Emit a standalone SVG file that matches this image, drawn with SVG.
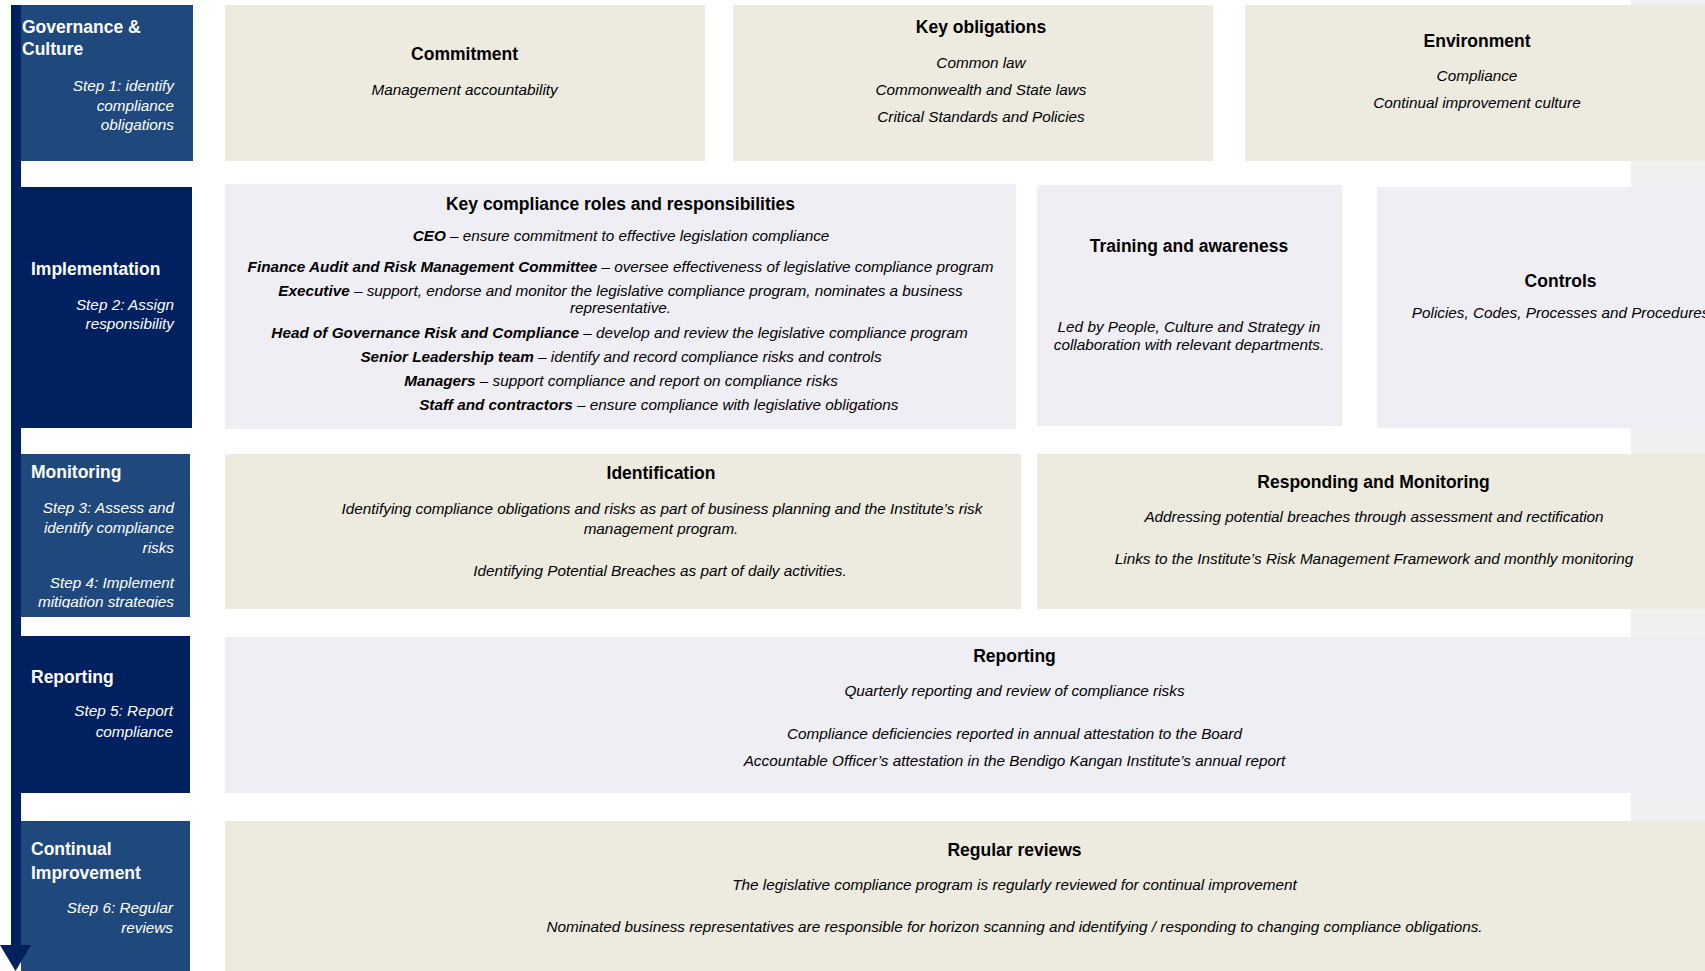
<svg xmlns="http://www.w3.org/2000/svg" width="1705" height="971" viewBox="0 0 1705 971">
<style>
text{font-family:"Liberation Sans",Arial,sans-serif}
.bg{fill:#ffffff}
.strip{fill:#f0f0f0}
.beige{fill:#edebe0}
.lav{fill:#f0eef5}
.navy{fill:#002060}
.mid{fill:#1f497d}
.lt{fill:#ffffff;font-weight:bold;font-size:17.5px}
.ls{fill:#ffffff;font-style:italic;font-size:15.3px;text-anchor:end}
.t{fill:#000000;font-weight:bold;font-size:17.5px;text-anchor:middle}
.b{fill:#000000;font-style:italic;font-size:15.3px;text-anchor:middle}
.bi{font-weight:bold}
</style>
<defs>
<clipPath id="monclip"><rect x="21" y="454" width="169" height="154"/></clipPath>
</defs>
<rect class="bg" x="0" y="0" width="1705" height="971"/>
<rect class="strip" x="1631" y="0" width="74" height="971"/>

<g id="governance">
<rect class="mid" x="21" y="5" width="172" height="156"/>
<text class="lt" x="22" y="33">Governance &amp;</text>
<text class="lt" x="22" y="55">Culture</text>
<text class="ls" x="174" y="91">Step 1: identify</text>
<text class="ls" x="174" y="111">compliance</text>
<text class="ls" x="174" y="130">obligations</text>
</g>
<g id="implementation">
<rect class="navy" x="11" y="187" width="181" height="241"/>
<text class="lt" x="31" y="275">Implementation</text>
<text class="ls" x="174" y="309.5">Step 2: Assign</text>
<text class="ls" x="174" y="329">responsibility</text>
</g>
<g id="monitoring">
<rect class="mid" x="21" y="454" width="169" height="163"/>
<text class="lt" x="31" y="478">Monitoring</text>
<g clip-path="url(#monclip)">
<text class="ls" x="174" y="512.5">Step 3: Assess and</text>
<text class="ls" x="174" y="533">identify compliance</text>
<text class="ls" x="174" y="553">risks</text>
<text class="ls" x="174" y="587.5">Step 4: Implement</text>
<text class="ls" x="174" y="607">mitigation strategies</text>
</g>
</g>
<g id="reporting">
<rect class="navy" x="11" y="636" width="179" height="157"/>
<text class="lt" x="31" y="682.5">Reporting</text>
<text class="ls" x="173" y="715.5">Step 5: Report</text>
<text class="ls" x="173" y="736.5">compliance</text>
</g>
<g id="continual">
<rect class="mid" x="21" y="821" width="169" height="150"/>
<text class="lt" x="31" y="855">Continual</text>
<text class="lt" x="31" y="878.5">Improvement</text>
<text class="ls" x="173" y="913">Step 6: Regular</text>
<text class="ls" x="173" y="932.5">reviews</text>
</g>

<g id="commitment">
<rect class="beige" x="225" y="5" width="480" height="156"/>
<text class="t" x="464.6" y="60">Commitment</text>
<text class="b" x="464.6" y="94.5">Management accountability</text>
</g>
<g id="key-obligations">
<rect class="beige" x="733" y="5" width="480" height="156"/>
<text class="t" x="981" y="33">Key obligations</text>
<text class="b" x="981" y="68">Common law</text>
<text class="b" x="981" y="95">Commonwealth and State laws</text>
<text class="b" x="981" y="122">Critical Standards and Policies</text>
</g>
<g id="environment">
<rect class="beige" x="1245" y="5" width="460" height="156"/>
<text class="t" x="1477" y="46.5">Environment</text>
<text class="b" x="1477" y="80.5">Compliance</text>
<text class="b" x="1477" y="107.5">Continual improvement culture</text>
</g>

<g id="roles">
<rect class="lav" x="225" y="184" width="791" height="245"/>
<text class="t" x="620.5" y="210">Key compliance roles and responsibilities</text>
<text class="b" x="621" y="241"><tspan class="bi">CEO</tspan> – ensure commitment to effective legislation compliance</text>
<text class="b" x="620.5" y="272"><tspan class="bi">Finance Audit and Risk Management Committee</tspan> – oversee effectiveness of legislative compliance program</text>
<text class="b" x="620.5" y="295.5"><tspan class="bi">Executive</tspan> – support, endorse and monitor the legislative compliance program, nominates a business</text>
<text class="b" x="620.5" y="313">representative.</text>
<text class="b" x="619.5" y="337.5"><tspan class="bi">Head of Governance Risk and Compliance</tspan> – develop and review the legislative compliance program</text>
<text class="b" x="621" y="361.5"><tspan class="bi">Senior Leadership team</tspan> – identify and record compliance risks and controls</text>
<text class="b" x="621" y="386"><tspan class="bi">Managers</tspan> – support compliance and report on compliance risks</text>
<text class="b" x="658.8" y="410"><tspan class="bi">Staff and contractors</tspan> – ensure compliance with legislative obligations</text>
</g>
<g id="training">
<rect class="lav" x="1037" y="185" width="305" height="241"/>
<text class="t" x="1189" y="252">Training and awareness</text>
<text class="b" x="1189" y="331.5">Led by People, Culture and Strategy in</text>
<text class="b" x="1189" y="349.5">collaboration with relevant departments.</text>
</g>
<g id="controls">
<rect class="lav" x="1377" y="187" width="328" height="241"/>
<text class="t" x="1560.6" y="287">Controls</text>
<text class="b" x="1560.6" y="318">Policies, Codes, Processes and Procedures</text>
</g>

<g id="identification">
<rect class="beige" x="225" y="454" width="796" height="155"/>
<text class="t" x="661" y="479">Identification</text>
<text class="b" x="662" y="513.5">Identifying compliance obligations and risks as part of business planning and the Institute’s risk</text>
<text class="b" x="661" y="534">management program.</text>
<text class="b" x="660" y="575.5">Identifying Potential Breaches as part of daily activities.</text>
</g>
<g id="responding">
<rect class="beige" x="1037" y="454" width="668" height="155"/>
<text class="t" x="1373.5" y="488">Responding and Monitoring</text>
<text class="b" x="1374" y="521.5">Addressing potential breaches through assessment and rectification</text>
<text class="b" x="1374" y="563.5">Links to the Institute’s Risk Management Framework and monthly monitoring</text>
</g>

<g id="reporting-box">
<rect class="lav" x="225" y="637" width="1480" height="156"/>
<text class="t" x="1014.5" y="662">Reporting</text>
<text class="b" x="1014.5" y="695.5">Quarterly reporting and review of compliance risks</text>
<text class="b" x="1014.5" y="739">Compliance deficiencies reported in annual attestation to the Board</text>
<text class="b" x="1014.5" y="765.5">Accountable Officer’s attestation in the Bendigo Kangan Institute’s annual report</text>
</g>
<g id="regular-reviews">
<rect class="beige" x="225" y="821" width="1480" height="150"/>
<text class="t" x="1014.5" y="856">Regular reviews</text>
<text class="b" x="1014.5" y="889.5">The legislative compliance program is regularly reviewed for continual improvement</text>
<text class="b" x="1014.5" y="931.5">Nominated business representatives are responsible for horizon scanning and identifying / responding to changing compliance obligations.</text>
</g>

<g id="connectors">
<rect class="navy" x="11" y="5" width="10" height="941"/>
<polygon class="navy" points="0,945 31,945 15.5,971"/>
</g>
</svg>
